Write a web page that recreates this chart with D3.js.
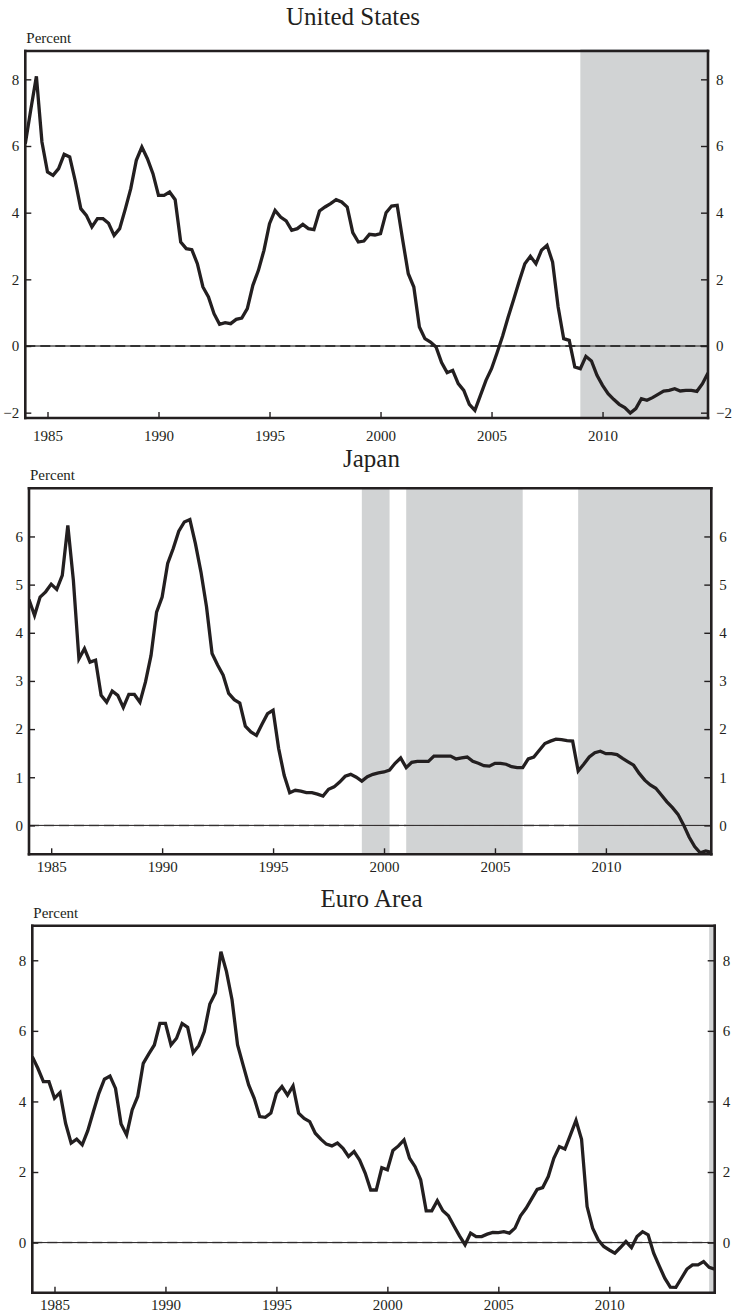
<!DOCTYPE html>
<html>
<head>
<meta charset="utf-8" />
<title>Inflation</title>
<script src="https://cdn.jsdelivr.net/npm/d3@7/dist/d3.min.js"></script>
<style>
    body { margin: 0; background: #fff; }
    text { font-family: "Liberation Serif", "Times New Roman", serif; fill: #231f20; }
</style>
</head>
<body>
<script>
    // quarterly series, first value is 1984 Q1
    var startYear = 1984;
    var yearTicks = [1985, 1990, 1995, 2000, 2005, 2010];

    var usValues = [
        6.07, 7.10, 8.09, 6.12,
        5.22, 5.12, 5.32, 5.75,
        5.67, 4.95, 4.12, 3.92,
        3.57, 3.82, 3.82, 3.68,
        3.32, 3.52, 4.10, 4.72,
        5.57, 5.97, 5.62, 5.17,
        4.52, 4.52, 4.62, 4.39,
        3.12, 2.92, 2.89, 2.47,
        1.77, 1.47, 0.97, 0.65,
        0.70, 0.67, 0.80, 0.84,
        1.12, 1.82, 2.27, 2.87,
        3.67, 4.07, 3.87, 3.75,
        3.47, 3.52, 3.65, 3.52,
        3.49, 4.05, 4.17, 4.27,
        4.39, 4.32, 4.17, 3.40,
        3.12, 3.15, 3.35, 3.33,
        3.37, 4.00, 4.20, 4.22,
        3.17, 2.17, 1.77, 0.57,
        0.22, 0.12, -0.03, -0.50,
        -0.80, -0.73, -1.13, -1.33,
        -1.75, -1.93, -1.48, -1.03,
        -0.68, -0.20, 0.30, 0.87,
        1.40, 1.95, 2.47, 2.69,
        2.47, 2.87, 3.02, 2.52,
        1.17, 0.22, 0.17, -0.63,
        -0.68, -0.31, -0.45, -0.88,
        -1.18, -1.43, -1.60, -1.75,
        -1.85, -2.01, -1.88, -1.58,
        -1.63, -1.55, -1.45, -1.35,
        -1.33, -1.28, -1.35, -1.33,
        -1.33, -1.36, -1.13, -0.81
    ];

    var jpValues = [
        4.69, 4.36, 4.74, 4.85,
        5.01, 4.90, 5.19, 6.23,
        5.09, 3.46, 3.67, 3.39,
        3.43, 2.70, 2.56, 2.79,
        2.70, 2.45, 2.72, 2.72,
        2.56, 2.98, 3.53, 4.43,
        4.74, 5.44, 5.75, 6.11,
        6.30, 6.35, 5.85, 5.26,
        4.54, 3.57, 3.33, 3.12,
        2.74, 2.61, 2.54, 2.06,
        1.94, 1.87, 2.10, 2.32,
        2.39, 1.60, 1.04, 0.68,
        0.73, 0.71, 0.68, 0.68,
        0.65, 0.61, 0.75, 0.80,
        0.90, 1.02, 1.06, 1.00,
        0.92, 1.01, 1.06, 1.09,
        1.11, 1.15, 1.29, 1.40,
        1.20, 1.31, 1.33, 1.33,
        1.33, 1.44, 1.44, 1.44,
        1.44, 1.38, 1.40, 1.42,
        1.33, 1.29, 1.24, 1.23,
        1.29, 1.29, 1.27, 1.22,
        1.20, 1.20, 1.38, 1.42,
        1.56, 1.70, 1.75, 1.79,
        1.78, 1.76, 1.75, 1.13,
        1.27, 1.42, 1.51, 1.54,
        1.49, 1.49, 1.47, 1.39,
        1.32, 1.25, 1.08, 0.94,
        0.84, 0.77, 0.63, 0.49,
        0.37, 0.23, 0.01, -0.24,
        -0.44, -0.57, -0.53, -0.56
    ];

    var euValues = [
        5.27, 4.94, 4.56, 4.56,
        4.09, 4.25, 3.38, 2.82,
        2.93, 2.77, 3.17, 3.71,
        4.23, 4.63, 4.72, 4.37,
        3.36, 3.05, 3.76, 4.14,
        5.08, 5.35, 5.60, 6.21,
        6.21, 5.60, 5.79, 6.21,
        6.10, 5.38, 5.58, 5.98,
        6.76, 7.07, 8.24, 7.68,
        6.88, 5.60, 5.03, 4.47,
        4.09, 3.57, 3.55, 3.67,
        4.23, 4.42, 4.18, 4.44,
        3.67, 3.52, 3.43, 3.10,
        2.93, 2.79, 2.74, 2.82,
        2.67, 2.44, 2.58, 2.34,
        1.97, 1.49, 1.49, 2.12,
        2.06, 2.61, 2.74, 2.91,
        2.39, 2.15, 1.78, 0.90,
        0.90, 1.19, 0.90, 0.76,
        0.47, 0.19, -0.06, 0.27,
        0.17, 0.17, 0.24, 0.29,
        0.28, 0.31, 0.27, 0.41,
        0.76, 0.97, 1.24, 1.51,
        1.56, 1.87, 2.39, 2.72,
        2.65, 3.05, 3.46, 2.93,
        1.02, 0.41, 0.08, -0.11,
        -0.21, -0.30, -0.14, 0.03,
        -0.14, 0.17, 0.31, 0.22,
        -0.30, -0.66, -1.01, -1.26,
        -1.27, -1.01, -0.75, -0.63,
        -0.63, -0.54, -0.70, -0.75
    ];

    var usTicks = [-2, 0, 2, 4, 6, 8];
    var jpTicks = [0, 1, 2, 3, 4, 5, 6];
    var euTicks = [0, 2, 4, 6, 8];

    var usShade = [[2009, 2014.75]];
    var jpShade = [[1999, 2000.25], [2001, 2006.25], [2008.75, 2014.75]];
    var euShade = [[2014.5, 2014.75]];

    var panels = [
        { title: "United States", values: usValues, ticks: usTicks, shade: usShade,
          left: 25.3, top: 51, right: 708, bottom: 418, yMin: -2.16, yMax: 8.85,
          titleX: 353, titleY: 25, xPad: 12, dashedZero: true, shadeOverTop: true },
        { title: "Japan", values: jpValues, ticks: jpTicks, shade: jpShade,
          left: 29, top: 488.3, right: 711.3, bottom: 854.3, yMin: -0.6, yMax: 7.0,
          titleX: 371.5, titleY: 466.5, xPad: 7, dashedZero: false, shadeOverTop: false },
        { title: "Euro Area", values: euValues, ticks: euTicks, shade: euShade,
          left: 32.3, top: 925.7, right: 714.7, bottom: 1292.7, yMin: -1.42, yMax: 8.98,
          titleX: 371.5, titleY: 906.5, xPad: 7, dashedZero: false, shadeOverTop: false }
    ];

    var ink = "#231f20";
    var shadeColor = "#d1d3d4";
    var serif = "'Liberation Serif', 'Times New Roman', serif";

    var svg = d3.select("body")
        .append("svg")
        .attr("width", 736)
        .attr("height", 1314);

    panels.forEach(function (p, k) {
        var x = d3.scaleLinear().domain([startYear, 2014.75]).range([p.left, p.right]);
        var y = d3.scaleLinear().domain([p.yMin, p.yMax]).range([p.bottom, p.top]);

        var g = svg.append("g");

        g.append("text")
            .attr("x", p.titleX)
            .attr("y", p.titleY)
            .attr("text-anchor", "middle")
            .style("font-size", "25px")
            .text(p.title);

        g.append("text")
            .attr("x", p.left + 1)
            .attr("y", p.top - 8)
            .style("font-size", "15px")
            .text("Percent");

        var frame = g.append("g")
            .attr("stroke", ink)
            .attr("stroke-width", 2.6)
            .attr("stroke-linecap", "square");

        if (p.shadeOverTop) {
            frame.append("line")
                .attr("x1", p.left).attr("x2", p.right)
                .attr("y1", p.top).attr("y2", p.top);
        }

        g.selectAll(".shade" + k)
            .data(p.shade).enter()
            .append("rect")
            .attr("x", function (d) { return x(d[0]); })
            .attr("width", function (d) { return x(d[1]) - x(d[0]); })
            .attr("y", p.shadeOverTop ? p.top - 2 : p.top)
            .attr("height", p.shadeOverTop ? p.bottom - p.top + 2 : p.bottom - p.top)
            .attr("fill", shadeColor);

        // zero line
        if (p.dashedZero) {
            g.append("line")
                .attr("x1", p.left).attr("x2", p.right)
                .attr("y1", y(0)).attr("y2", y(0))
                .attr("stroke", "#7d7d7d")
                .attr("stroke-width", 1.8);
            g.append("line")
                .attr("x1", p.left).attr("x2", p.right)
                .attr("y1", y(0)).attr("y2", y(0))
                .attr("stroke", "#333")
                .attr("stroke-width", 1.8)
                .attr("stroke-dasharray", "10,5");
        } else {
            g.append("line")
                .attr("x1", p.left).attr("x2", p.right)
                .attr("y1", y(0)).attr("y2", y(0))
                .attr("stroke", "#cfcfcf")
                .attr("stroke-width", 2.5)
                .attr("stroke-dasharray", "10,5");
            g.append("line")
                .attr("x1", p.left).attr("x2", p.right)
                .attr("y1", y(0)).attr("y2", y(0))
                .attr("stroke", ink)
                .attr("stroke-width", 1);
        }

        var clipId = "clip" + k;
        svg.append("clipPath").attr("id", clipId)
            .append("rect")
            .attr("x", p.left).attr("y", p.top)
            .attr("width", p.right - p.left).attr("height", p.bottom - p.top);

        var line = d3.line()
            .x(function (d, i) { return x(startYear + i / 4); })
            .y(function (d) { return y(d); });

        g.append("path")
            .datum(p.values)
            .attr("clip-path", "url(#" + clipId + ")")
            .attr("d", line)
            .attr("fill", "none")
            .attr("stroke", ink)
            .attr("stroke-width", 3.3)
            .attr("stroke-linejoin", "miter");

        // axes, ticks pointing inward
        var fmt = d3.format("d");

        var axL = g.append("g")
            .attr("transform", "translate(" + p.left + ",0)")
            .call(d3.axisLeft(y).tickValues(p.ticks).tickSize(-6).tickPadding(6).tickFormat(fmt));

        var axR = g.append("g")
            .attr("transform", "translate(" + p.right + ",0)")
            .call(d3.axisRight(y).tickValues(p.ticks).tickSize(-7).tickPadding(8).tickFormat(fmt));

        var axB = g.append("g")
            .attr("transform", "translate(0," + p.bottom + ")")
            .call(d3.axisBottom(x).tickValues(yearTicks).tickSize(-6).tickPadding(p.xPad).tickFormat(fmt));

        [axL, axR, axB].forEach(function (a) {
            a.attr("color", ink);
            a.select(".domain").remove();
            a.selectAll(".tick line").attr("stroke-width", 1.4);
            a.selectAll(".tick text")
                .style("font-family", serif)
                .style("font-size", "15px");
        });

        frame.raise();
        if (!p.shadeOverTop) {
            frame.append("line")
                .attr("x1", p.left).attr("x2", p.right)
                .attr("y1", p.top).attr("y2", p.top);
        }
        frame.append("line")
            .attr("x1", p.left).attr("x2", p.left)
            .attr("y1", p.top).attr("y2", p.bottom);
        frame.append("line")
            .attr("x1", p.right).attr("x2", p.right)
            .attr("y1", p.top).attr("y2", p.bottom);
        frame.append("line")
            .attr("x1", p.left).attr("x2", p.right)
            .attr("y1", p.bottom).attr("y2", p.bottom);
    });
</script>
</body>
</html>
